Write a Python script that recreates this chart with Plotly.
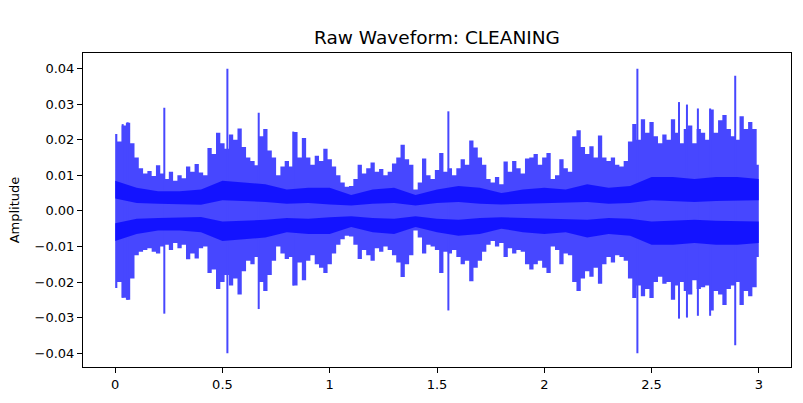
import numpy as np
import plotly.graph_objects as go

# Upper / lower envelope of the waveform, sampled every 0.02 s from 0 to 3 s
upper = [
    0.0216, 0.0195, 0.0240, 0.0248, 0.0190, 0.0150, 0.0120, 0.0105, 0.0112, 0.0098,
    0.0128, 0.0105, 0.0090, 0.0110, 0.0085, 0.0100, 0.0092, 0.0125, 0.0110, 0.0132,
    0.0108, 0.0100, 0.0177, 0.0160, 0.0220, 0.0190, 0.0175, 0.0215, 0.0200, 0.0232,
    0.0180, 0.0150, 0.0140, 0.0128, 0.0210, 0.0230, 0.0170, 0.0150, 0.0100, 0.0125,
    0.0140, 0.0125, 0.0222, 0.0150, 0.0205, 0.0150, 0.0130, 0.0155, 0.0140, 0.0175,
    0.0145, 0.0125, 0.0100, 0.0080, 0.0068, 0.0070, 0.0090, 0.0130, 0.0105, 0.0120,
    0.0136, 0.0110, 0.0118, 0.0100, 0.0110, 0.0133, 0.0150, 0.0186, 0.0145, 0.0130,
    0.0060, 0.0080, 0.0147, 0.0100, 0.0090, 0.0115, 0.0163, 0.0110, 0.0120, 0.0100,
    0.0120, 0.0145, 0.0130, 0.0198, 0.0178, 0.0150, 0.0130, 0.0090, 0.0080, 0.0095,
    0.0075, 0.0139, 0.0110, 0.0140, 0.0120, 0.0105, 0.0147, 0.0150, 0.0160, 0.0130,
    0.0150, 0.0163, 0.0090, 0.0100, 0.0145, 0.0120, 0.0110, 0.0210, 0.0227, 0.0180,
    0.0160, 0.0182, 0.0150, 0.0212, 0.0150, 0.0140, 0.0150, 0.0130, 0.0125, 0.0140,
    0.0195, 0.0244, 0.0200, 0.0258, 0.0220, 0.0250, 0.0210, 0.0190, 0.0215, 0.0200,
    0.0258, 0.0220, 0.0190, 0.0230, 0.0240, 0.0190, 0.0230, 0.0220, 0.0200, 0.0285,
    0.0220, 0.0255, 0.0270, 0.0230, 0.0210, 0.0200, 0.0266, 0.0230, 0.0250, 0.0230,
    0.0130,
]
lower = [
    -0.0217, -0.0200, -0.0244, -0.0250, -0.0190, -0.0125, -0.0115, -0.0110, -0.0105, -0.0115,
    -0.0120, -0.0100, -0.0095, -0.0110, -0.0090, -0.0105, -0.0095, -0.0136, -0.0120, -0.0134,
    -0.0105, -0.0100, -0.0175, -0.0165, -0.0220, -0.0200, -0.0180, -0.0210, -0.0190, -0.0235,
    -0.0170, -0.0140, -0.0150, -0.0130, -0.0200, -0.0225, -0.0180, -0.0140, -0.0100, -0.0120,
    -0.0135, -0.0130, -0.0210, -0.0145, -0.0195, -0.0140, -0.0125, -0.0150, -0.0160, -0.0175,
    -0.0150, -0.0120, -0.0095, -0.0080, -0.0070, -0.0072, -0.0095, -0.0135, -0.0110, -0.0125,
    -0.0140, -0.0105, -0.0115, -0.0100, -0.0110, -0.0125, -0.0145, -0.0186, -0.0150, -0.0125,
    -0.0055, -0.0075, -0.0120, -0.0095, -0.0100, -0.0110, -0.0175, -0.0115, -0.0120, -0.0110,
    -0.0130, -0.0150, -0.0140, -0.0198, -0.0160, -0.0140, -0.0115, -0.0095, -0.0085, -0.0100,
    -0.0090, -0.0130, -0.0105, -0.0120, -0.0110, -0.0115, -0.0150, -0.0165, -0.0150, -0.0140,
    -0.0160, -0.0175, -0.0100, -0.0110, -0.0150, -0.0120, -0.0125, -0.0200, -0.0225, -0.0190,
    -0.0170, -0.0185, -0.0160, -0.0205, -0.0150, -0.0130, -0.0145, -0.0125, -0.0130, -0.0140,
    -0.0190, -0.0245, -0.0210, -0.0240, -0.0220, -0.0245, -0.0200, -0.0185, -0.0205, -0.0200,
    -0.0250, -0.0210, -0.0200, -0.0225, -0.0235, -0.0195, -0.0220, -0.0215, -0.0210, -0.0280,
    -0.0225, -0.0235, -0.0265, -0.0220, -0.0210, -0.0200, -0.0265, -0.0225, -0.0240, -0.0215,
    -0.0130,
]

# Isolated transient spikes (time, top, bottom)
spike_times = [0.035, 0.058, 0.229, 0.523, 0.669, 0.830, 1.553, 2.434, 2.628, 2.665, 2.716, 2.773, 2.890]
spike_top = [0.0244, 0.0249, 0.0290, 0.0400, 0.0276, 0.0223, 0.0280, 0.0400, 0.0306, 0.0299, 0.0288, 0.0288, 0.0380]
spike_bottom = [-0.0244, -0.0250, -0.0289, -0.0400, -0.0276, -0.0210, -0.0280, -0.0400, -0.0303, -0.0300, -0.0295, -0.0295, -0.0378]

# Dense inner band (darker) edges, every 0.1 s
band_outer = [0.0085, 0.0065, 0.0055, 0.0055, 0.0060, 0.0085, 0.0080, 0.0075, 0.0060, 0.0065,
              0.0065, 0.0045, 0.0060, 0.0065, 0.0045, 0.0060, 0.0070, 0.0065, 0.0050, 0.0060,
              0.0065, 0.0060, 0.0075, 0.0065, 0.0070, 0.0095, 0.0095, 0.0090, 0.0095, 0.0095,
              0.0090]
band_inner = [0.0035, 0.0022, 0.0020, 0.0018, 0.0017, 0.0030, 0.0028, 0.0025, 0.0020, 0.0022,
              0.0018, 0.0015, 0.0020, 0.0022, 0.0015, 0.0022, 0.0025, 0.0020, 0.0018, 0.0020,
              0.0020, 0.0022, 0.0025, 0.0020, 0.0022, 0.0030, 0.0028, 0.0025, 0.0028, 0.0030,
              0.0030]

duration = 3.0
t_env = np.linspace(0, duration, len(upper))
t_low = np.linspace(0, duration, len(lower))
t_band = np.linspace(0, duration, len(band_outer))

blue = "rgba(0,0,255,0.72)"
blue_flat = "#4747ff"   # same colour as the alpha fill over white

fig = go.Figure()
fig.add_trace(go.Scatter(x=t_env, y=upper, mode="lines", line=dict(width=0, color=blue, shape="hvh"),
                         hoverinfo="skip", showlegend=False))
fig.add_trace(go.Scatter(x=t_low, y=lower, mode="lines", line=dict(width=0, color=blue, shape="hvh"),
                         fill="tonexty", fillcolor=blue, hoverinfo="skip", showlegend=False))

# spikes, drawn in the flat envelope colour so they merge with the fill
sx, sy = [], []
for t, a, b in zip(spike_times, spike_top, spike_bottom):
    sx += [t, t, None]
    sy += [b, a, None]
fig.add_trace(go.Scatter(x=sx, y=sy, mode="lines", line=dict(width=2, color=blue_flat),
                         hoverinfo="skip", showlegend=False))

# darker inner bands (upper and lower)
fig.add_trace(go.Scatter(x=t_band, y=band_outer, mode="lines", line=dict(width=0),
                         hoverinfo="skip", showlegend=False))
fig.add_trace(go.Scatter(x=t_band, y=band_inner, mode="lines", line=dict(width=0),
                         fill="tonexty", fillcolor=blue, hoverinfo="skip", showlegend=False))
fig.add_trace(go.Scatter(x=t_band, y=[-v for v in band_inner], mode="lines", line=dict(width=0),
                         hoverinfo="skip", showlegend=False))
fig.add_trace(go.Scatter(x=t_band, y=[-v for v in band_outer], mode="lines", line=dict(width=0),
                         fill="tonexty", fillcolor=blue, hoverinfo="skip", showlegend=False))

axis_common = dict(showline=True, linecolor="black", linewidth=1, mirror=True,
                   ticks="outside", ticklen=5, tickwidth=1, tickcolor="black",
                   showgrid=False, zeroline=False,
                   tickfont=dict(family="DejaVu Sans", size=13, color="black"))

fig.update_layout(
    width=803, height=403,
    margin=dict(l=83, r=11, t=53, b=30),
    paper_bgcolor="white", plot_bgcolor="white",
    title=dict(text="Raw Waveform: CLEANING", x=0.5, xref="paper", xanchor="center",
               y=1 - 38 / 403, yref="container", yanchor="middle",
               font=dict(family="DejaVu Sans", size=18.5, color="black")),
    xaxis=dict(range=[-0.15, 3.15], dtick=0.5, tick0=0, **axis_common),
    yaxis=dict(range=[-0.0439, 0.0444], dtick=0.01, tick0=0, tickformat=".2f",
               title=dict(text="Amplitude", standoff=12,
                          font=dict(family="DejaVu Sans", size=13, color="black")),
               **axis_common),
)

fig.write_html("out.html")
